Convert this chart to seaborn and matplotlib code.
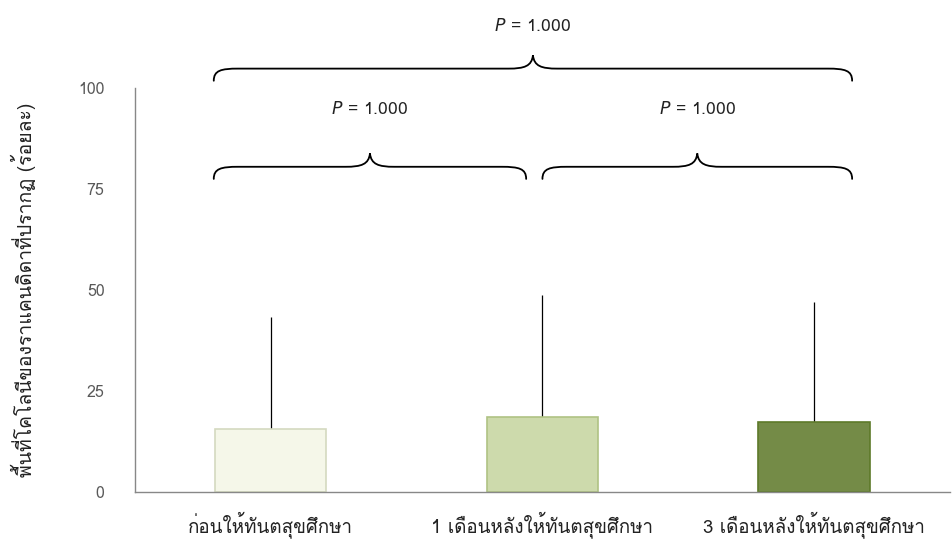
import matplotlib
matplotlib.use("Agg")
import matplotlib.pyplot as plt
from matplotlib import font_manager
from matplotlib.path import Path
from matplotlib.patches import PathPatch
import seaborn as sns
import pandas as pd
import numpy as np

# ---- data ----
categories = ["ก่อนให้ทันตสุขศึกษา", "1 เดือนหลังให้ทันตสุขศึกษา", "3 เดือนหลังให้ทันตสุขศึกษา"]
means = [15.5, 18.6, 17.4]
sd = [27.7, 30.2, 29.6]
yticks = [0, 25, 50, 75, 100]
p_labels = ["1.000", "1.000", "1.000"]
ylabel = "พื้นที่โคโลนีของราแคนดิดาที่ปรากฏ (ร้อยละ)"

# ---- font with Thai glyphs, if any ----
thai_font = None
try:
    from fontTools.ttLib import TTFont
    for f in font_manager.fontManager.ttflist:
        try:
            tt = TTFont(f.fname, fontNumber=0, lazy=True)
            cmap = tt.getBestCmap()
            if cmap and 0x0E01 in cmap and 0x0E2D in cmap:
                thai_font = f.name
                break
        except Exception:
            pass
except Exception:
    pass

sns.set_theme(style="white")
fams = ([thai_font] if thai_font else []) + ["DejaVu Sans"]
plt.rcParams["font.family"] = fams

fig = plt.figure(figsize=(9.52, 5.49), dpi=100)
ax = fig.add_axes([0.1418, 0.1038, 0.856, 0.7359])

df = pd.DataFrame({"group": categories, "value": means})
colors = ["#F6F9E7", "#D0E1A5", "#78973B"]
edges = ["#D4D9C0", "#AFC284", "#5E7A2A"]
sns.barplot(data=df, x="group", y="value", hue="group", palette=colors,
            width=0.41, errorbar=None, legend=False, ax=ax, linewidth=1.2)
for patch, ec in zip(ax.patches, edges):
    patch.set_edgecolor(ec)

xpos = np.arange(len(categories))
ax.errorbar(xpos, means, yerr=[np.zeros(len(sd)), sd], fmt="none",
            ecolor="black", elinewidth=0.9, capsize=0, zorder=1)
for patch in ax.patches:
    patch.set_zorder(2)

ax.set_ylim(0, 100)
ax.set_xlim(-0.5, 2.5)
ax.set_yticks(yticks)
ax.tick_params(axis="y", length=0, labelsize=11.5, labelcolor="#595959", pad=22)
ax.tick_params(axis="x", length=0, labelsize=13.5, labelcolor="#222222", pad=14)
ax.set_xlabel("")
ax.set_ylabel(ylabel, fontsize=14, color="#222222", labelpad=30)
for s in ["top", "right"]:
    ax.spines[s].set_visible(False)
for s in ["left", "bottom"]:
    ax.spines[s].set_color("#888888")
    ax.spines[s].set_linewidth(1.0)


def brace(x0, x1, y, h=3.0, w=0.09):
    mid = (x0 + x1) / 2
    verts = [
        (x0, y - h),
        (x0, y - 0.15 * h), (x0 + 0.3 * w, y), (x0 + w, y),
        (mid - w, y),
        (mid - 0.35 * w, y), (mid - 0.05 * w, y + 0.2 * h), (mid, y + 1.1 * h),
        (mid + 0.05 * w, y + 0.2 * h), (mid + 0.35 * w, y), (mid + w, y),
        (x1 - w, y),
        (x1 - 0.3 * w, y), (x1, y - 0.15 * h), (x1, y - h),
    ]
    codes = [Path.MOVETO,
             Path.CURVE4, Path.CURVE4, Path.CURVE4,
             Path.LINETO,
             Path.CURVE4, Path.CURVE4, Path.CURVE4,
             Path.CURVE4, Path.CURVE4, Path.CURVE4,
             Path.LINETO,
             Path.CURVE4, Path.CURVE4, Path.CURVE4]
    pp = PathPatch(Path(verts, codes), fill=False, edgecolor="black",
                   linewidth=1.3, clip_on=False, capstyle="round")
    ax.add_patch(pp)
    return mid


m1 = brace(-0.21, 0.94, 80.5)
m2 = brace(1.0, 2.14, 80.5)
m3 = brace(-0.21, 2.14, 104.8)

def ptext(x, y, val):
    ax.text(x, y, f"$\\it{{P}}$ = {val}", ha="center", va="center",
            fontsize=12.5, color="#222222", clip_on=False)

ptext(m1, 94.7, p_labels[0])
ptext(m2, 94.7, p_labels[1])
ptext(m3, 115.3, p_labels[2])

fig.savefig("out.png", dpi=100)
